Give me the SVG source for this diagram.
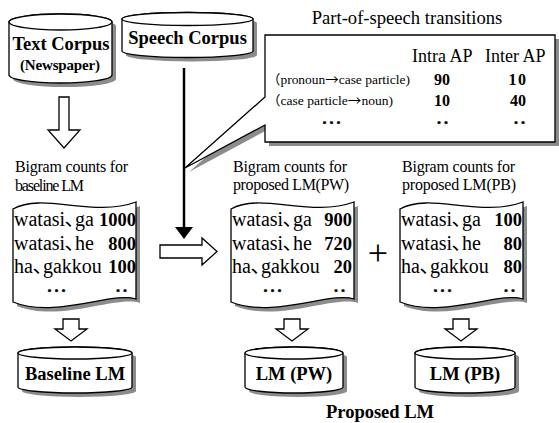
<svg xmlns="http://www.w3.org/2000/svg" width="559" height="423" viewBox="0 0 559 423">
  <style>
    .o { fill: #fff; stroke: #000; stroke-width: 1.3; }
    .sh { fill: #8c8c8c; stroke: none; }
    text { font-family: "Liberation Serif", "Noto Sans CJK JP", serif; fill: #000; }
    .b { font-weight: bold; }
    .lbl { font-size: 18.5px; font-weight: bold; text-anchor: middle; }
    .cap { font-size: 16px; }
    .row { font-size: 20px; }
    .num { font-size: 18.5px; font-weight: bold; text-anchor: end; }
    .dots { font-size: 16px; font-weight: 900; text-anchor: middle; letter-spacing: 3px; stroke: #000; stroke-width: 0.6px; }
    .pos { font-size: 13px; }
    .arr { font-family: "Noto Sans CJK JP", sans-serif; }
    .cnt { font-size: 16px; font-weight: bold; text-anchor: middle; }
  </style>
  <defs>
    <!-- wavy-edged document sheet, 123 wide -->
    <path id="sheet" d="M0,7 C30,-10 80,16 123,0 V97 C100,89 42,117 0,100 Z"/>
    <!-- hollow down arrow centred on x=0 -->
    <path id="down" d="M-8,0 H8 V10 H16 L0,22 L-16,10 H-8 Z"/>
  </defs>
  <rect width="559" height="423" fill="#fff"/>

  <!-- Text Corpus database -->
  <g id="text-corpus">
    <path class="sh" transform="translate(4,4)" d="M9,22 A51.5,8 0 0 1 112,22 V75 A51.5,8 0 0 1 9,75 Z"/>
    <path class="o" d="M9,22 A51.5,8 0 0 1 112,22 V75 A51.5,8 0 0 1 9,75 Z"/>
    <ellipse class="o" cx="60.5" cy="22" rx="51.5" ry="8"/>
    <text class="lbl" x="61" y="50" textLength="97">Text Corpus</text>
    <text class="b" x="60" y="70" font-size="15" text-anchor="middle" textLength="80">(Newspaper)</text>
  </g>

  <!-- Speech Corpus database -->
  <g id="speech-corpus">
    <path class="sh" transform="translate(4,4)" d="M122,19 A65.5,6.5 0 0 1 253,19 V51 A65.5,6.5 0 0 1 122,51 Z"/>
    <path class="o" d="M122,19 A65.5,6.5 0 0 1 253,19 V51 A65.5,6.5 0 0 1 122,51 Z"/>
    <ellipse class="o" cx="187.5" cy="19" rx="65.5" ry="6.5"/>
    <text class="lbl" x="187.5" y="44">Speech Corpus</text>
  </g>

  <!-- Part-of-speech transitions callout -->
  <g id="pos-transitions">
    <text x="407" y="24" font-size="18.6" text-anchor="middle">Part-of-speech transitions</text>
    <path class="sh" transform="translate(4,4)" d="M265,35 H555 V142 H265 V125 L185,168 L265,97 Z"/>
    <path class="o" d="M265,35 H555 V142 H265 V125 L185,168 L265,97 Z"/>
    <text x="412" y="62" font-size="18">Intra AP</text>
    <text x="485" y="62" font-size="18">Inter AP</text>
    <text class="pos" x="267" y="84" textLength="143" lengthAdjust="spacingAndGlyphs">（pronoun<tspan class="arr">→</tspan>case particle)</text>
    <text class="pos" x="267" y="105" textLength="126" lengthAdjust="spacingAndGlyphs">（case particle<tspan class="arr">→</tspan>noun)</text>
    <text class="cnt" x="442" y="85">90</text>
    <text class="cnt" x="518" y="85" letter-spacing="1.5">10</text>
    <text class="cnt" x="442" y="106">10</text>
    <text class="cnt" x="518" y="106">40</text>
    <text class="dots" x="333" y="124">...</text>
    <text class="dots" x="444" y="124">..</text>
    <text class="dots" x="521" y="124">..</text>
  </g>

  <!-- Bigram counts, baseline -->
  <g id="counts-baseline">
    <text class="cap" x="15" y="172" textLength="113">Bigram counts for</text>
    <text class="cap" x="15" y="191" textLength="69">baseline LM</text>
    <use href="#sheet" class="sh" transform="translate(17,206)"/>
    <use href="#sheet" class="o" transform="translate(13,202)"/>
    <text class="row" x="14" y="226">watasi､ga</text>
    <text class="num" x="136" y="226">1000</text>
    <text class="row" x="14" y="250">watasi､he</text>
    <text class="num" x="136" y="250">800</text>
    <text class="row" x="14" y="273">ha､gakkou</text>
    <text class="num" x="136" y="273">100</text>
    <text class="dots" x="58" y="292">...</text>
    <text class="dots" x="123" y="292">..</text>
  </g>

  <!-- Bigram counts, proposed (PW) -->
  <g id="counts-pw">
    <text class="cap" x="233" y="172" textLength="114">Bigram counts for</text>
    <text class="cap" x="233" y="190" textLength="116">proposed LM(PW)</text>
    <use href="#sheet" class="sh" transform="translate(235,206)"/>
    <use href="#sheet" class="o" transform="translate(231,202)"/>
    <text class="row" x="232" y="226">watasi､ga</text>
    <text class="num" x="352" y="226">900</text>
    <text class="row" x="232" y="250">watasi､he</text>
    <text class="num" x="352" y="250">720</text>
    <text class="row" x="232" y="273">ha､gakkou</text>
    <text class="num" x="352" y="273">20</text>
    <text class="dots" x="274" y="292">...</text>
    <text class="dots" x="341" y="292">..</text>
  </g>

  <text id="plus" x="378" y="265" font-size="36" text-anchor="middle">+</text>

  <!-- Bigram counts, proposed (PB) -->
  <g id="counts-pb">
    <text class="cap" x="402" y="172" textLength="113">Bigram counts for</text>
    <text class="cap" x="402" y="190" textLength="114">proposed LM(PB)</text>
    <use href="#sheet" class="sh" transform="translate(404,206)"/>
    <use href="#sheet" class="o" transform="translate(400,202)"/>
    <text class="row" x="401" y="226">watasi､ga</text>
    <text class="num" x="522" y="226">100</text>
    <text class="row" x="401" y="250">watasi､he</text>
    <text class="num" x="522" y="250">80</text>
    <text class="row" x="401" y="273">ha､gakkou</text>
    <text class="num" x="522" y="273">80</text>
    <text class="dots" x="444" y="292">...</text>
    <text class="dots" x="511" y="292">..</text>
  </g>

  <!-- Language model databases -->
  <g id="baseline-lm">
    <path class="sh" transform="translate(4,4)" d="M18,353 A57,6 0 0 1 132,353 V387 A57,6 0 0 1 18,387 Z"/>
    <path class="o" d="M18,353 A57,6 0 0 1 132,353 V387 A57,6 0 0 1 18,387 Z"/>
    <ellipse class="o" cx="75" cy="353" rx="57" ry="6"/>
    <text class="lbl" x="75" y="380">Baseline LM</text>
  </g>
  <g id="lm-pw">
    <path class="sh" transform="translate(4,4)" d="M245,353 A49,6 0 0 1 343,353 V387 A49,6 0 0 1 245,387 Z"/>
    <path class="o" d="M245,353 A49,6 0 0 1 343,353 V387 A49,6 0 0 1 245,387 Z"/>
    <ellipse class="o" cx="294" cy="353" rx="49" ry="6"/>
    <text class="lbl" x="294" y="380">LM (PW)</text>
  </g>
  <g id="lm-pb">
    <path class="sh" transform="translate(4,4)" d="M415,353 A50,6 0 0 1 515,353 V387 A50,6 0 0 1 415,387 Z"/>
    <path class="o" d="M415,353 A50,6 0 0 1 515,353 V387 A50,6 0 0 1 415,387 Z"/>
    <ellipse class="o" cx="465" cy="353" rx="50" ry="6"/>
    <text class="lbl" x="465" y="380">LM (PB)</text>
  </g>
  <text id="proposed-lm" class="lbl" x="380" y="418">Proposed LM</text>

  <!-- Connectors -->
  <g id="connectors">
    <path class="o" d="M59,97 H69 V130 H80 L64,148 L48,130 H59 Z"/>
    <line x1="184" y1="68" x2="184" y2="228" stroke="#000" stroke-width="2.5"/>
    <path d="M175,227 H193 L184,239 Z" fill="#000"/>
    <path class="o" d="M160,245 H202 V238 L217,251.5 L202,265 V258 H160 Z"/>
    <use href="#down" class="o" transform="translate(71,319)"/>
    <use href="#down" class="o" transform="translate(292,319)"/>
    <use href="#down" class="o" transform="translate(461,319)"/>
  </g>
</svg>
